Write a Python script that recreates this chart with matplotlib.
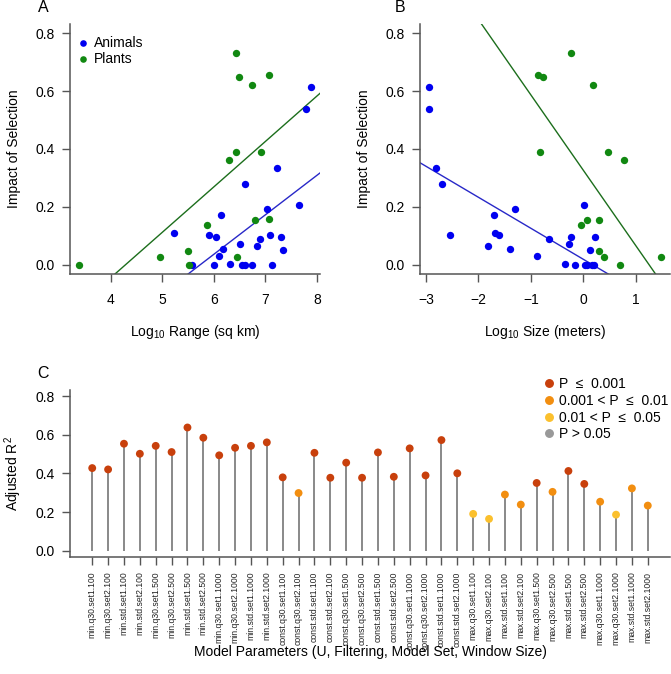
import matplotlib
matplotlib.use("Agg")
import matplotlib.pyplot as plt
import numpy as np

plt.rcParams['font.family'] = ['Liberation Sans', 'DejaVu Sans']
plt.rcParams['mathtext.fontset'] = 'custom'
plt.rcParams['mathtext.rm'] = 'Liberation Sans'
plt.rcParams['mathtext.it'] = 'Liberation Sans:italic'

# ---------------- data ----------------
# Panel A: log10 range vs impact of selection
rangeA_animals_x = [5.22, 5.90, 6.05, 6.14, 6.17, 6.10, 6.01, 5.58, 6.32, 6.51, 6.55, 6.61,
                    6.74, 6.61, 6.83, 6.90, 7.03, 7.09, 7.12, 7.22, 7.30, 7.35, 7.66, 7.79, 7.88]
rangeA_animals_y = [0.108, 0.104, 0.097, 0.171, 0.054, 0.030, 0.0, 0.0, 0.002, 0.070, 0.0, 0.0,
                    0.0, 0.278, 0.066, 0.088, 0.191, 0.104, 0.0, 0.333, 0.097, 0.051, 0.207, 0.538, 0.613]
rangeA_plants_x = [3.39, 4.95, 5.49, 5.52, 5.86, 6.45, 6.30, 6.43, 6.43, 6.48, 6.75, 6.79, 6.92, 7.07, 7.07]
rangeA_plants_y = [0.0, 0.028, 0.046, 0.0, 0.137, 0.028, 0.362, 0.391, 0.731, 0.648, 0.621, 0.154,
                   0.390, 0.657, 0.157]
# fitted lines (slope, intercept)
fitA_animals = (0.1365, -0.783)
fitA_plants = (0.157, -0.673)

# Panel B: log10 size vs impact of selection
sizeB_animals_x = [-2.94, -2.94, -2.82, -2.70, -2.54, -1.82, -1.70, -1.68, -1.60, -1.40, -1.31, -0.89,
                   -0.66, -0.34, -0.27, -0.24, -0.15, 0.02, 0.03, 0.08, 0.13, 0.16, 0.20, 0.22]
sizeB_animals_y = [0.613, 0.538, 0.333, 0.278, 0.104, 0.066, 0.171, 0.108, 0.103, 0.053, 0.191, 0.030,
                   0.088, 0.002, 0.070, 0.097, 0.0, 0.207, 0.0, 0.0, 0.051, 0.0, 0.0, 0.097]
sizeB_plants_x = [-0.83, -0.87, -0.76, -0.24, 0.18, -0.04, 0.08, 0.30, 0.30, 0.39, 0.47, 0.70, 0.78, 1.48]
sizeB_plants_y = [0.390, 0.657, 0.648, 0.731, 0.621, 0.137, 0.154, 0.154, 0.046, 0.028, 0.390, 0.0,
                  0.362, 0.028]
fitB_animals = (-0.107, 0.019)
fitB_plants = (-0.260, 0.327)

# Panel C: adjusted R^2 by model parameters
model_labels = [
    "min.q30.set1.100", "min.q30.set2.100", "min.std.set1.100", "min.std.set2.100",
    "min.q30.set1.500", "min.q30.set2.500", "min.std.set1.500", "min.std.set2.500",
    "min.q30.set1.1000", "min.q30.set2.1000", "min.std.set1.1000", "min.std.set2.1000",
    "const.q30.set1.100", "const.q30.set2.100", "const.std.set1.100", "const.std.set2.100",
    "const.q30.set1.500", "const.q30.set2.500", "const.std.set1.500", "const.std.set2.500",
    "const.q30.set1.1000", "const.q30.set2.1000", "const.std.set1.1000", "const.std.set2.1000",
    "max.q30.set1.100", "max.q30.set2.100", "max.std.set1.100", "max.std.set2.100",
    "max.q30.set1.500", "max.q30.set2.500", "max.std.set1.500", "max.std.set2.500",
    "max.q30.set1.1000", "max.q30.set2.1000", "max.std.set1.1000", "max.std.set2.1000",
]
adj_r2 = [0.428, 0.421, 0.554, 0.502, 0.543, 0.511, 0.638, 0.585, 0.494, 0.533, 0.543, 0.561,
          0.380, 0.299, 0.507, 0.378, 0.456, 0.378, 0.509, 0.383, 0.530, 0.390, 0.573, 0.401,
          0.191, 0.165, 0.291, 0.239, 0.351, 0.305, 0.413, 0.346, 0.254, 0.187, 0.323, 0.234]
sig_class = [0, 0, 0, 0, 0, 0, 0, 0, 0, 0, 0, 0,
             0, 1, 0, 0, 0, 0, 0, 0, 0, 0, 0, 0,
             2, 2, 1, 1, 0, 1, 0, 0, 1, 2, 1, 1]
sig_labels = ["P  \u2264  0.001", "0.001 < P  \u2264  0.01", "0.01 < P  \u2264  0.05", "P > 0.05"]
sig_colors = ["#C8400C", "#F28E10", "#FBC02D", "#999999"]

BLUE = "#0000F0"
GREEN = "#118811"
BLUE_LINE = "#2828C8"
GREEN_LINE = "#1C6E1C"
SPINE = "#555555"
FS = 10

W, H = 671, 674
fig = plt.figure(figsize=(W / 100, H / 100), dpi=100)


def px_axes(l, t, r, b):
    return fig.add_axes([l / W, 1 - b / H, (r - l) / W, (b - t) / H])


def style(ax, xpad=8.0, ypad=5.0, lsize=FS):
    for s in ["top", "right"]:
        ax.spines[s].set_visible(False)
    for s in ["left", "bottom"]:
        ax.spines[s].set_color(SPINE)
        ax.spines[s].set_linewidth(1.1)
    ax.tick_params(axis="both", direction="out", length=6, width=1.0, color=SPINE, labelsize=lsize)
    ax.tick_params(axis="x", pad=xpad)
    ax.tick_params(axis="y", pad=ypad)


ms = 28

# ---- Panel A ----
axA = px_axes(70, 24, 320, 274)
axA.scatter(rangeA_animals_x, rangeA_animals_y, s=ms, color=BLUE, label="Animals", zorder=3, linewidths=0)
axA.scatter(rangeA_plants_x, rangeA_plants_y, s=ms, color=GREEN, label="Plants", zorder=3, linewidths=0)
axA.axline((0, fitA_animals[1]), slope=fitA_animals[0], color=BLUE_LINE, lw=1.0)
axA.axline((0, fitA_plants[1]), slope=fitA_plants[0], color=GREEN_LINE, lw=1.0)
axA.set_xlim(3.21, 8.06)
axA.set_ylim(-0.032, 0.832)
axA.set_xticks([4, 5, 6, 7, 8])
axA.set_yticks([0.0, 0.2, 0.4, 0.6, 0.8])
axA.set_yticklabels(["0.0", "0.2", "0.4", "0.6", "0.8"])
style(axA)
axA.set_xlabel("Log$_{10}$ Range (sq km)", fontsize=FS)
axA.set_ylabel("Impact of Selection", fontsize=FS)
axA.xaxis.set_label_coords(0.5, -0.196)
axA.yaxis.set_label_coords(-0.196, 0.5)
axA.legend(loc="upper left", bbox_to_anchor=(0.0, 0.965), frameon=False, fontsize=FS,
           handletextpad=0.15, labelspacing=0.15, borderaxespad=0.0, borderpad=0.2,
           scatterpoints=1, markerscale=0.9, handlelength=1.4)

# ---- Panel B ----
axB = px_axes(420, 24, 670, 274)
axB.scatter(sizeB_animals_x, sizeB_animals_y, s=ms, color=BLUE, zorder=3, linewidths=0)
axB.scatter(sizeB_plants_x, sizeB_plants_y, s=ms, color=GREEN, zorder=3, linewidths=0)
axB.axline((0, fitB_animals[1]), slope=fitB_animals[0], color=BLUE_LINE, lw=1.0)
axB.axline((0, fitB_plants[1]), slope=fitB_plants[0], color=GREEN_LINE, lw=1.0)
axB.set_xlim(-3.117, 1.657)
axB.set_ylim(-0.032, 0.832)
axB.set_xticks([-3, -2, -1, 0, 1])
axB.set_xticklabels(["\u22123", "\u22122", "\u22121", "0", "1"])
axB.set_yticks([0.0, 0.2, 0.4, 0.6, 0.8])
axB.set_yticklabels(["0.0", "0.2", "0.4", "0.6", "0.8"])
style(axB)
axB.set_xlabel("Log$_{10}$ Size (meters)", fontsize=FS)
axB.set_ylabel("Impact of Selection", fontsize=FS)
axB.xaxis.set_label_coords(0.5, -0.196)
axB.yaxis.set_label_coords(-0.196, 0.5)

# ---- Panel C ----
axC = px_axes(70, 390, 670, 557)
xpos = np.arange(1, len(adj_r2) + 1)
axC.vlines(xpos, 0, adj_r2, color="#808080", lw=1.3, zorder=2)
cols = [sig_colors[c] for c in sig_class]
axC.scatter(xpos, adj_r2, s=32, c=cols, zorder=3, linewidths=0)
axC.set_xlim(1 - 1.4, len(adj_r2) + 1.4)
axC.set_ylim(-0.032, 0.832)
axC.set_xticks(xpos)
axC.set_xticklabels(model_labels, rotation=90, fontsize=6.2, va="top", ha="center")
axC.set_yticks([0.0, 0.2, 0.4, 0.6, 0.8])
axC.set_yticklabels(["0.0", "0.2", "0.4", "0.6", "0.8"])
style(axC)
axC.tick_params(axis="x", pad=4.5, labelsize=6.2, labelcolor="#222222")
axC.set_ylabel("Adjusted R$^2$", fontsize=FS)
axC.yaxis.set_label_coords(-0.076, 0.5)
axC.set_xlabel("Model Parameters (U, Filtering, Model Set, Window Size)", fontsize=FS)
axC.xaxis.set_label_coords(0.5, -0.527)
handles = [plt.Line2D([], [], marker="o", linestyle="none", color=c, markersize=5.4) for c in sig_colors]
axC.legend(handles, sig_labels, loc="upper left", bbox_to_anchor=(542 / W, 1 - 377 / H),
           bbox_transform=fig.transFigure, frameon=False, fontsize=FS, handletextpad=0.2,
           labelspacing=0.2, borderaxespad=0, handlelength=1.0, borderpad=0)

# panel letters
fig.text(43 / W, 1 - 8 / H, "A", fontsize=11.5, ha="center", va="center")
fig.text(400 / W, 1 - 8 / H, "B", fontsize=11.5, ha="center", va="center")
fig.text(43 / W, 1 - 374 / H, "C", fontsize=11.5, ha="center", va="center")

fig.savefig("out.png", dpi=100)
